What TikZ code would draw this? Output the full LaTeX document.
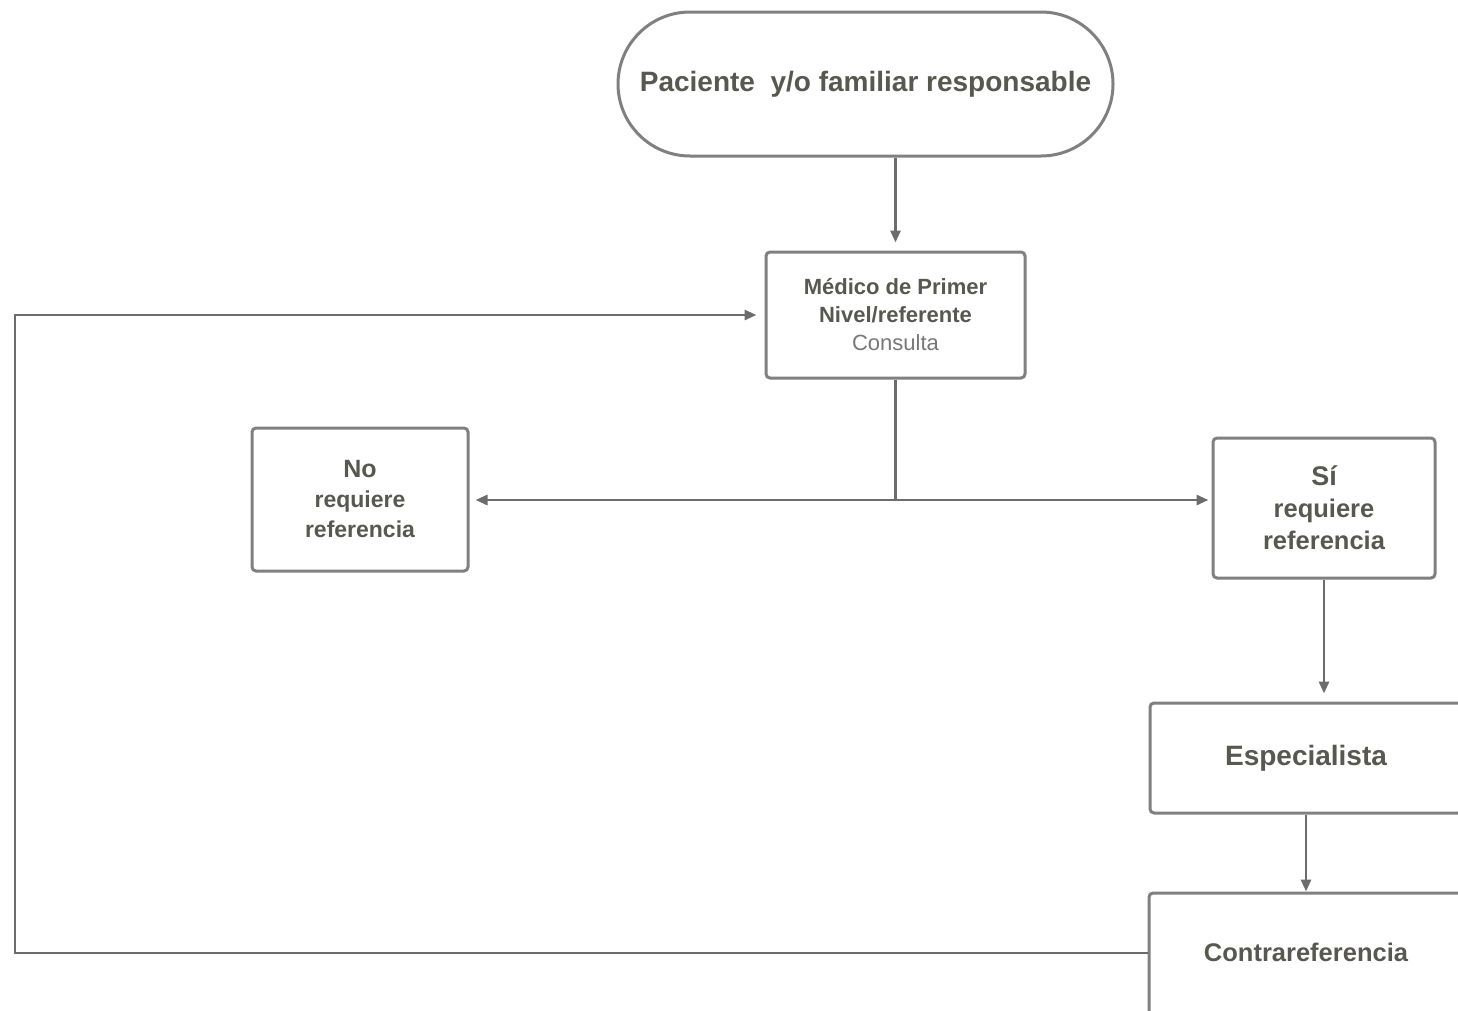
\documentclass[tikz,border=0pt]{standalone}
\usepackage{fontspec}
\setmainfont{Liberation Sans}
\usetikzlibrary{arrows.meta}
\definecolor{ln}{RGB}{108,108,108}
\definecolor{bx}{RGB}{128,128,128}
\definecolor{tx}{RGB}{88,88,80}
\definecolor{tx2}{RGB}{120,120,120}
\tikzset{
  box/.style={draw=bx, line width=3pt, rounded corners=4pt, fill=white, align=center, text=tx, font=\bfseries, inner sep=0pt},
  conn/.style={draw=ln, line width=2.8pt},
  arr/.style={conn, -{Triangle[length=12pt,width=10pt]}}
}
\begin{document}
\begin{tikzpicture}[x=1pt,y=-1pt]
\useasboundingbox[fill=white] (0,0) rectangle (1458,1010);
% nodes
\node[box, rounded corners=72pt, minimum width=495pt, minimum height=144pt, font=\bfseries\fontsize{28}{32}\selectfont] (term) at (865.5,84) {\raisebox{3pt}{Paciente\ \ y/o familiar responsable}};
\node[box, minimum width=259pt, minimum height=126pt, font=\bfseries\fontsize{22}{28}\selectfont] (med) at (895.5,315) {Médico de Primer\\Nivel/referente\\{\mdseries\color{tx2}Consulta}};
\node[box, minimum width=216pt, minimum height=143pt, font=\bfseries\fontsize{23}{30}\selectfont] (no) at (360,499.5) {{\fontsize{25}{30}\selectfont No}\\requiere\\referencia};
\node[box, minimum width=222pt, minimum height=140pt, font=\bfseries\fontsize{25.5}{32}\selectfont] (si) at (1324,508) {{\fontsize{27}{32}\selectfont Sí}\\requiere\\referencia};
\node[box, minimum width=312pt, minimum height=110pt, font=\bfseries\fontsize{28}{32}\selectfont] (esp) at (1306,758) {\raisebox{3pt}{Especialista}};
\node[box, minimum width=314pt, minimum height=122pt, font=\bfseries\fontsize{25.5}{30}\selectfont] (con) at (1306,954) {\raisebox{3pt}{Contrareferencia}};
% connectors
\coordinate (jn) at (895.5,500);
\coordinate (lc) at (15,953);
\draw[arr, shorten >=8pt] (med.north |- term.south) -- (med.north);
\draw[conn] (med.south) -- (jn);
\draw[arr, shorten >=6pt] (jn) -- (no.east |- jn);
\draw[arr, shorten >=3pt] (jn) -- (si.west |- jn);
\draw[arr, shorten >=8pt] (si.south) -- (si.south |- esp.north);
\draw[arr] (esp.south) -- (con.north);
\draw[arr, shorten >=8pt] (con.west |- lc) -- (lc) -- (lc |- med.west) -- (med.west);
\end{tikzpicture}
\end{document}
